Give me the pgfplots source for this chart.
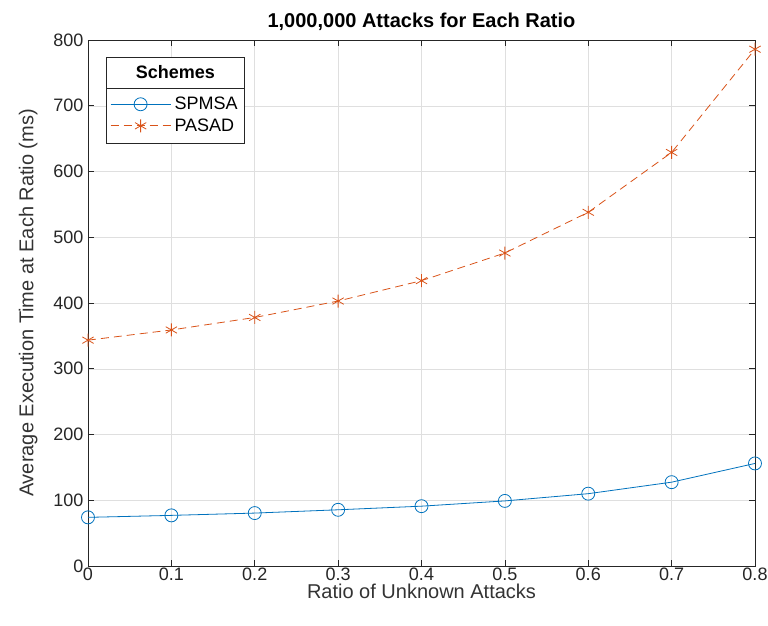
\documentclass[border=0pt]{standalone}
\usepackage{fontspec}
\setmainfont{Liberation Sans}
\usepackage{pgfplots}
\pgfplotsset{compat=1.18}
\definecolor{mblue}{rgb}{0,0.447,0.741}
\definecolor{morange}{rgb}{0.85,0.325,0.098}
\definecolor{axgray}{gray}{0.15}
\begin{document}
\begin{tikzpicture}
\useasboundingbox (-88pt,-59pt) rectangle (680pt,566pt);
\begin{axis}[
  scale only axis,
  width=667pt, height=526pt,
  xmin=0, xmax=0.8, ymin=0, ymax=800,
  xtick={0,0.1,...,0.8},
  xticklabels={0,0.1,0.2,0.3,0.4,0.5,0.6,0.7,0.8},
  ytick={0,100,...,800},
  /pgf/number format/assume math mode=true,
  tick label style={font=\fontsize{18}{20}\selectfont, text=black!85},
  xticklabel style={yshift=-1pt, inner ysep=1pt},
  yticklabel style={xshift=-1pt},
  label style={font=\fontsize{20}{22}\selectfont, text=black!80},
  xlabel={Ratio of Unknown Attacks},
  ylabel={Average Execution Time at Each Ratio (ms)},
  xlabel style={yshift=-1pt, inner ysep=1pt},
  ylabel style={yshift=9pt},
  title={\textbf{1,000,000 Attacks for Each Ratio}},
  title style={font=\fontsize{20}{22}\selectfont, yshift=0pt},
  axis line style={axgray, line width=0.6pt},
  tick style={axgray, line width=0.6pt},
  tick align=inside,
  major tick length=6pt,
  grid=major,
  grid style={gray!25, line width=0.5pt},
  legend style={at={(rel axis cs:0.027,0.9087)}, anchor=north west, draw=none, fill=none,
    font=\fontsize{18}{20}\selectfont, inner xsep=4pt, inner ysep=7.5pt, row sep=4.5pt, column sep=2pt,
    nodes={inner sep=1.5pt}},
  legend cell align=left,
  legend image code/.code={\draw[mark repeat=2,mark phase=2] plot coordinates {(0pt,0pt)(30pt,0pt)(60pt,0pt)};},
]
\draw[axgray, line width=0.6pt, fill=white] (rel axis cs:0.027,0.9677) rectangle (rel axis cs:0.235,0.804);
\draw[axgray, line width=0.6pt] (rel axis cs:0.027,0.9087) -- (rel axis cs:0.235,0.9087);
\node[font=\fontsize{18}{20}\selectfont\bfseries] at (rel axis cs:0.131,0.9382) {Schemes};
\addplot[mblue, line width=0.8pt, mark=o, mark size=6.5pt, mark options={solid, line width=0.8pt}]
  coordinates {(0,74) (0.1,77) (0.2,80.5) (0.3,85.5) (0.4,91) (0.5,99) (0.6,110) (0.7,127.5) (0.8,156)};
\addlegendentry{SPMSA}
\addplot[morange, line width=0.8pt, dash pattern=on 8pt off 5pt, mark=asterisk, mark size=6.5pt, mark options={solid, line width=0.8pt}]
  coordinates {(0,343.5) (0.1,359) (0.2,378) (0.3,403) (0.4,434) (0.5,476) (0.6,538) (0.7,629) (0.8,786)};
\addlegendentry{PASAD}
\end{axis}
\end{tikzpicture}
\end{document}
